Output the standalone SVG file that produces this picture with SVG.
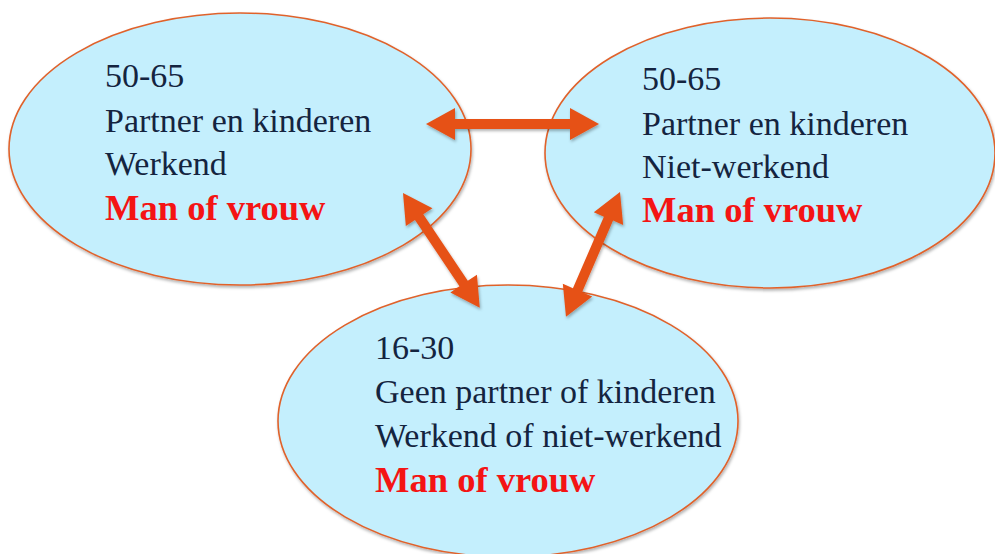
<svg xmlns="http://www.w3.org/2000/svg" width="995" height="554" viewBox="0 0 995 554">
  <defs>
    <filter id="sh" x="-10%" y="-10%" width="120%" height="120%">
      <feDropShadow dx="1" dy="2" stdDeviation="1.5" flood-color="#000" flood-opacity="0.3"/>
    </filter>
    <style>
      .node { fill: #C4EFFD; stroke: #E0622C; stroke-width: 1.6; }
      .t { font-family: "Liberation Serif", "Times New Roman", serif; font-size: 34px; fill: #14243F; }
      .r { font-family: "Liberation Serif", "Times New Roman", serif; font-size: 36.5px; font-weight: bold; fill: #F41414; }
      .arrow { fill: #E65115; }
    </style>
  </defs>
  <rect width="995" height="554" fill="#FFFFFF"/>

  <g id="node-left">
    <ellipse class="node" cx="240" cy="149" rx="231" ry="136" filter="url(#sh)"/>
    <text class="t" x="105" y="87">50-65</text>
    <text class="t" x="105" y="132">Partner en kinderen</text>
    <text class="t" x="105" y="175">Werkend</text>
    <text class="r" x="105" y="220">Man of vrouw</text>
  </g>

  <g id="node-right">
    <ellipse class="node" cx="770" cy="153" rx="225" ry="135" filter="url(#sh)"/>
    <text class="t" x="642" y="90">50-65</text>
    <text class="t" x="642" y="135">Partner en kinderen</text>
    <text class="t" x="642" y="178">Niet-werkend</text>
    <text class="r" x="642" y="222">Man of vrouw</text>
  </g>

  <g id="node-bottom">
    <ellipse class="node" cx="508" cy="421" rx="230" ry="136" filter="url(#sh)"/>
    <text class="t" x="375" y="359">16-30</text>
    <text class="t" x="375" y="403">Geen partner of kinderen</text>
    <text class="t" x="375" y="447">Werkend of niet-werkend</text>
    <text class="r" x="375" y="492">Man of vrouw</text>
  </g>

  <g id="connectors" filter="url(#sh)">
    <polygon class="arrow" transform="translate(426,124)" points="0,0 29,-16 29,-5 144,-5 144,-16 173,0 144,16 144,5 29,5 29,16"/>
    <polygon class="arrow" transform="translate(403,193) rotate(56.2)" points="0,0 29,-16 29,-5 109,-5 109,-16 138,0 109,16 109,5 29,5 29,16"/>
    <polygon class="arrow" transform="translate(620,192) rotate(113.4)" points="0,0 29,-16 29,-5 107,-5 107,-16 136,0 107,16 107,5 29,5 29,16"/>
  </g>
</svg>
